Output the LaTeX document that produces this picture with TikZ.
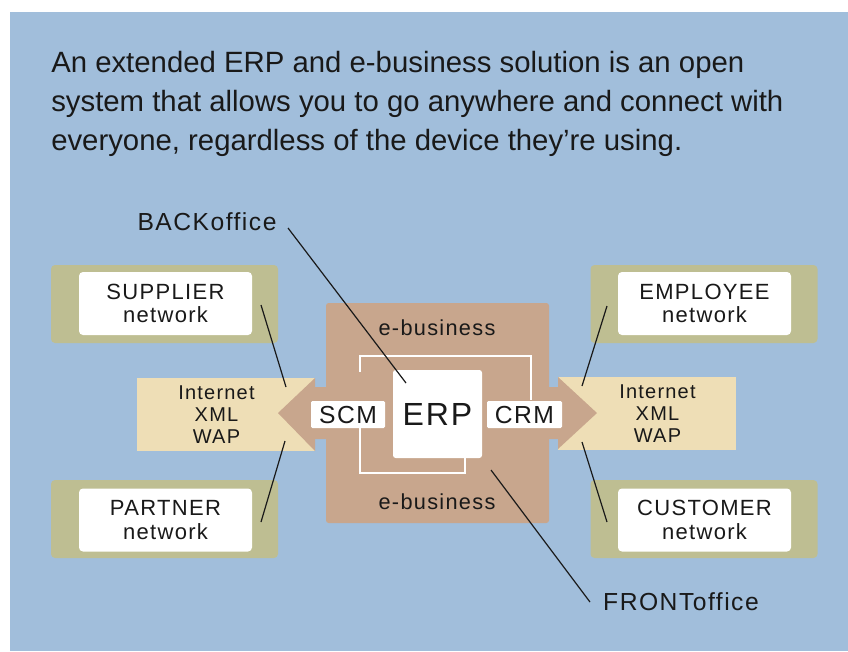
\documentclass[tikz,border=0pt]{standalone}
\usepackage{fontspec}
\setmainfont{Liberation Sans}
\newfontfamily\lbl[LetterSpace=6]{Liberation Sans}
\definecolor{bgblue}{RGB}{161,190,219}
\definecolor{olive}{RGB}{190,190,146}
\definecolor{tan}{RGB}{238,222,182}
\definecolor{brown}{RGB}{200,166,141}
\definecolor{ink}{RGB}{25,25,25}
\tikzset{
  olivebox/.style={fill=olive, rounded corners=3, inner sep=0pt, minimum width=227*0.75pt, minimum height=78*0.75pt},
  whitebox/.style={fill=white, rounded corners=3, inner sep=0pt, minimum width=173*0.75pt, minimum height=63*0.75pt, align=center, text=ink, font=\lbl\fontsize{16.5}{17.5}\selectfont},
  tanbox/.style={fill=tan, inner sep=0pt, minimum width=178*0.75pt, minimum height=73*0.75pt},
  proto/.style={align=center, text=ink, inner sep=0pt, font=\lbl\fontsize{15}{16.5}\selectfont},
  taglabel/.style={fill=white, rounded corners=1, inner sep=0pt, minimum height=27*0.75pt, text=ink, font=\lbl\fontsize{18.5}{20}\selectfont},
  ebiz/.style={text=ink, inner sep=0pt, font=\lbl\fontsize{16.3}{17}\selectfont},
  leader/.style={draw=ink, line width=0.9pt},
  callout/.style={text=ink, inner sep=0pt, font=\lbl\fontsize{18.5}{20}\selectfont},
  frame/.style={draw=white, line width=1.3pt},
  paraline/.style={anchor=base west, inner sep=0pt, text=ink, font=\fontsize{22}{29}\selectfont}
}
\begin{document}
\begin{tikzpicture}[x=0.75pt,y=-0.75pt]
\useasboundingbox (0,0) rectangle (848,651);
\fill[white] (0,0) rectangle (848,651);
\fill[bgblue] (10,12) rectangle (848,651);

% paragraph
\node[paraline] (para1) at (51,72.7) {An extended ERP and e-business solution is an open};
\node[paraline] (para2) at (51,111.5) {system that allows you to go anywhere and connect with};
\node[paraline] (para3) at (51,150) {everyone, regardless of the device they’re using.};

% tan bands
\node[tanbox] (tanL) at (226,414.5) {};
\node[tanbox] (tanR) at (647,413.5) {};

% network boxes
\node[olivebox] (supO) at (164.5,304) {};
\node[whitebox] (sup) at (165.5,303.5) {SUPPLIER\\network};
\node[olivebox] (parO) at (164.5,519) {};
\node[whitebox] (par) at (165.5,520) {PARTNER\\network};
\node[olivebox] (empO) at (704,304) {};
\node[whitebox] (emp) at (704.5,303.5) {EMPLOYEE\\network};
\node[olivebox] (cusO) at (704,519) {};
\node[whitebox] (cus) at (704.5,520) {CUSTOMER\\network};

% main box
\node[fill=brown, rounded corners=2, inner sep=0pt, minimum width=223*0.75pt, minimum height=220*0.75pt] (main) at (437.5,413) {};

% arrows
\fill[brown] (330,387) -- (315,387) -- (315,378) -- (278,413) -- (315,451) -- (315,439) -- (330,439) -- cycle;
\fill[brown] (545,387) -- (558,387) -- (558,377) -- (597,413) -- (558,449) -- (558,439) -- (545,439) -- cycle;

\node[proto] (protoL) at (216.5,415) {Internet\\XML\\WAP};
\node[proto] (protoR) at (657.5,414) {Internet\\XML\\WAP};

% frames
\draw[frame] (360,372) -- (360,356) -- (531,356) -- (531,400);
\draw[frame] (360,427) -- (360,473) -- (465,473) -- (465,458);

\node[ebiz] (ebT) at (437,328) {e-business};
\node[ebiz] (ebB) at (437,502) {e-business};

\node[fill=white, rounded corners=2, inner sep=0pt, minimum width=89*0.75pt, minimum height=88*0.75pt, text=ink, font=\lbl\fontsize{24}{26}\selectfont] (erp) at (437.5,414) {ERP};
\node[taglabel, minimum width=74*0.75pt] (scm) at (348,414.5) {SCM};
\node[taglabel, minimum width=75*0.75pt] (crm) at (524.5,414.5) {CRM};

% callouts
\node[callout, anchor=center] (back) at (207,222) {BACKoffice};
\node[callout, anchor=center] (front) at (681,602) {FRONToffice};

\coordinate (b1) at (288,228);
\coordinate (b2) at (406,383);
\coordinate (f1) at (491,470);
\coordinate (f2) at (590,602);
\draw[leader] (b1) -- (b2);
\draw[leader] (f1) -- (f2);

\coordinate (s1) at (261,305); \coordinate (s2) at (286,387);
\coordinate (p1) at (285,441); \coordinate (p2) at (261,522);
\coordinate (e1) at (607,306); \coordinate (e2) at (582,386);
\coordinate (c1) at (582,442); \coordinate (c2) at (607,522);
\draw[leader] (s1) -- (s2);
\draw[leader] (p1) -- (p2);
\draw[leader] (e1) -- (e2);
\draw[leader] (c1) -- (c2);
\end{tikzpicture}
\end{document}
